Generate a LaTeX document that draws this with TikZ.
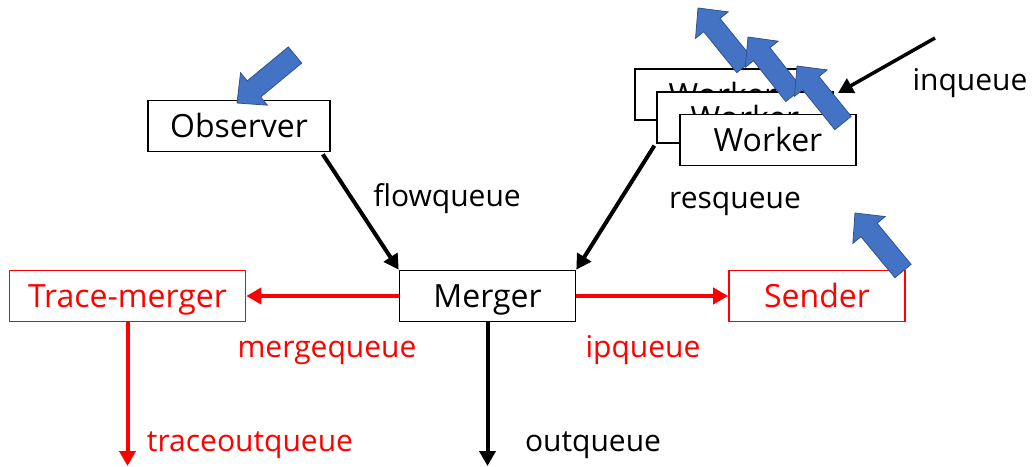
\documentclass[tikz,border=0pt]{standalone}
\usepackage{fontspec}
\setmainfont{Open Sans}
\usetikzlibrary{arrows.meta,calc}
\definecolor{blockblue}{HTML}{4472C4}
\definecolor{blockedge}{HTML}{2F528F}
\definecolor{qred}{HTML}{FF0000}
\tikzset{
  box/.style={draw=black, fill=white, line width=1.6pt, minimum width=176pt, minimum height=51pt, inner sep=0pt, text height=23pt, text depth=0pt, font=\fontsize{32}{36}\selectfont},
  redbox/.style={box, draw=qred, text=qred},
  flow/.style={line width=4pt, -{Triangle[length=15pt,width=16pt]}},
  redflow/.style={flow, draw=qred},
  qlabel/.style={font=\fontsize{30}{34}\selectfont, inner sep=0pt, text height=16pt, text depth=0pt},
  redlabel/.style={qlabel, text=qred},
  blockarrow/.style={fill=blockblue, draw=blockedge, line width=0.8pt, line join=miter}
}
% block arrow from tail #1 to tip #2
\newcommand\blockarrow[2]{%
  \coordinate (ba-t) at (#1);
  \coordinate (ba-p) at (#2);
  \coordinate (ba-b) at ($(ba-p)!22pt!(ba-t)$);
  \filldraw[blockarrow]
    ($(ba-t)!10.5pt!90:(ba-p)$) --
    ($(ba-b)!10.5pt!90:(ba-p)$) --
    ($(ba-b)!21pt!90:(ba-p)$) --
    (ba-p) --
    ($(ba-b)!21pt!-90:(ba-p)$) --
    ($(ba-b)!10.5pt!-90:(ba-p)$) --
    ($(ba-t)!10.5pt!-90:(ba-p)$) -- cycle;
}
\begin{document}
\begin{tikzpicture}[x=1pt,y=-1pt]
\useasboundingbox (0,0) rectangle (1032,466);

% components
\node[box, minimum width=182pt] (observer) at (239,126) {Observer};
\node[box] (merger) at (487.5,296) {Merger};
\node[redbox, minimum width=236pt] (trace) at (127.5,296) {Trace-merger};
\node[redbox] (sender) at (817,296) {Sender};

% stacked workers
\node[box, line width=1.2pt] (worker1) at (723,94.5) {Worker};
\node[box, line width=1.2pt] (worker2) at (745,117.5) {Worker};
\node[box, line width=1.2pt] (worker3) at (768,140) {Worker};

% free ends
\coordinate (inq) at (935,38);
\coordinate (traceout) at (127.5,466);
\coordinate (mergeout) at (487.5,466);

% black queues
\draw[flow] (observer.south east) ++(-8,2) -- (merger.north west);
\draw[flow] (worker2.south west) ++(-2,2) -- (merger.north east);
\draw[flow, line width=3.5pt] (inq) -- (838,93);
\draw[flow] (merger.south) -- (mergeout);

% red queues
\draw[redflow] (merger.west) -- (trace.east);
\draw[redflow] (merger.east) -- (sender.west);
\draw[redflow] (trace.south) -- (traceout);

% queue labels (placed by the middle of their x-height)
\node[qlabel] (lflow) at (447,198) {flowqueue};
\node[qlabel] (lres) at (735,200) {resqueue};
\node[qlabel] (lin) at (970,82) {inqueue};
\node[qlabel] (lout) at (593,443) {outqueue};
\node[redlabel] (lmerge) at (327,349) {mergequeue};
\node[redlabel] (lip) at (643,349) {ipqueue};
\node[redlabel] (ltrace) at (250,443) {traceoutqueue};

% blue block arrows
\blockarrow{295,55}{237,103}
\blockarrow{745,66}{698,8}
\blockarrow{794,95}{748,37}
\blockarrow{843,123}{797,66}
\blockarrow{903,271}{855,213}
\end{tikzpicture}
\end{document}
